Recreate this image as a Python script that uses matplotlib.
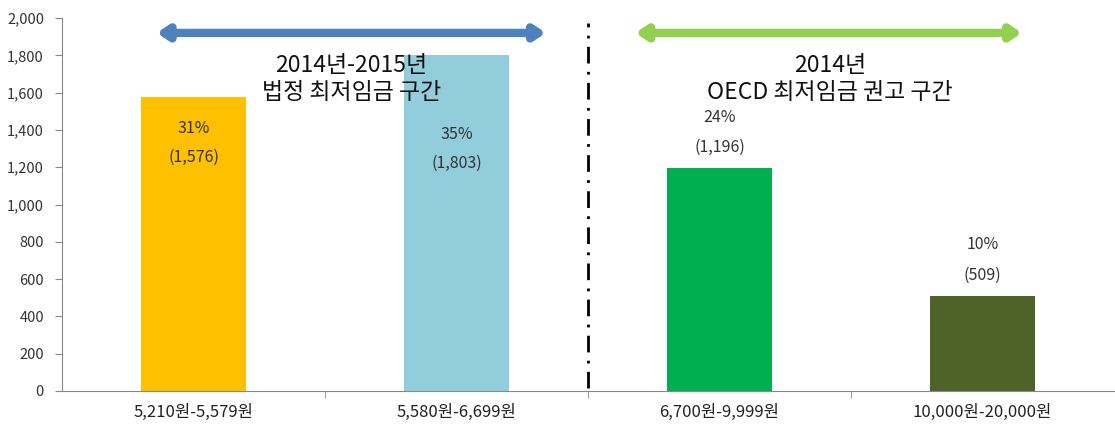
import matplotlib
matplotlib.use('Agg')
import matplotlib.pyplot as plt
from matplotlib.ticker import FuncFormatter, FixedLocator

plt.rcParams['font.family'] = ['Noto Sans CJK KR', 'DejaVu Sans']

# data
categories = ['5,210원-5,579원', '5,580원-6,699원', '6,700원-9,999원', '10,000원-20,000원']
counts = [1576, 1803, 1196, 509]
shares = ['31%', '35%', '24%', '10%']
bar_colors = ['#FFC000', '#92CDDC', '#00B050', '#4F6228']

fig = plt.figure(figsize=(11.15, 4.32), dpi=100)
ax = fig.add_axes([62/1115, 41/432, 1052/1115, 373/432])

x = range(len(categories))
ax.bar(x, counts, width=0.4, color=bar_colors, zorder=1)

ax.set_xlim(-0.5, 3.5)
ax.set_ylim(0, 2000)
ax.set_yticks(range(0, 2001, 200))
ax.yaxis.set_major_formatter(FuncFormatter(lambda v, p: '{:,.0f}'.format(v)))
ax.set_xticks(list(x))
ax.set_xticklabels(categories, fontsize=12, color='#222222')
ax.xaxis.set_minor_locator(FixedLocator([0.5, 1.5, 2.5]))
ax.tick_params(axis='x', which='major', length=0, pad=9)
ax.tick_params(axis='x', which='minor', length=5, color='#888888')
ax.tick_params(axis='y', length=5, color='#888888', labelsize=10.5, labelcolor='#333333', pad=8)

for s in ['top', 'right']:
    ax.spines[s].set_visible(False)
for s in ['left', 'bottom']:
    ax.spines[s].set_color('#888888')

# value labels
share_y = [1410, 1373, 1464, 783]
count_y = [1255, 1222, 1308, 622]
for i in x:
    ax.text(i, share_y[i], shares[i], ha='center', va='center', fontsize=11.5, color='#333333')
    ax.text(i, count_y[i], '({:,})'.format(counts[i]), ha='center', va='center', fontsize=11.5, color='#333333')

# range arrows
ax.annotate('', xy=(-0.14, 1920), xytext=(1.34, 1920),
            arrowprops=dict(arrowstyle='<|-|>,head_length=0.6,head_width=0.4', lw=6, color='#4F81BD',
                            shrinkA=0, shrinkB=0))
ax.annotate('', xy=(1.68, 1920), xytext=(3.15, 1920),
            arrowprops=dict(arrowstyle='<|-|>,head_length=0.6,head_width=0.4', lw=6, color='#92D050',
                            shrinkA=0, shrinkB=0))

ax.text(0.6, 1743, '2014년-2015년', ha='center', va='center', fontsize=16.5, color='#111111', zorder=3)
ax.text(0.6, 1598, '법정 최저임금 구간', ha='center', va='center', fontsize=16.5, color='#111111', zorder=3)
ax.text(2.42, 1743, '2014년', ha='center', va='center', fontsize=16.5, color='#111111', zorder=3)
ax.text(2.42, 1598, 'OECD 최저임금 권고 구간', ha='center', va='center', fontsize=16.5, color='#111111', zorder=3)

# divider
ax.plot([1.5, 1.5], [15, 1975], color='black', lw=2, dashes=(6, 3, 1, 3))

fig.savefig('out.png', dpi=100)
